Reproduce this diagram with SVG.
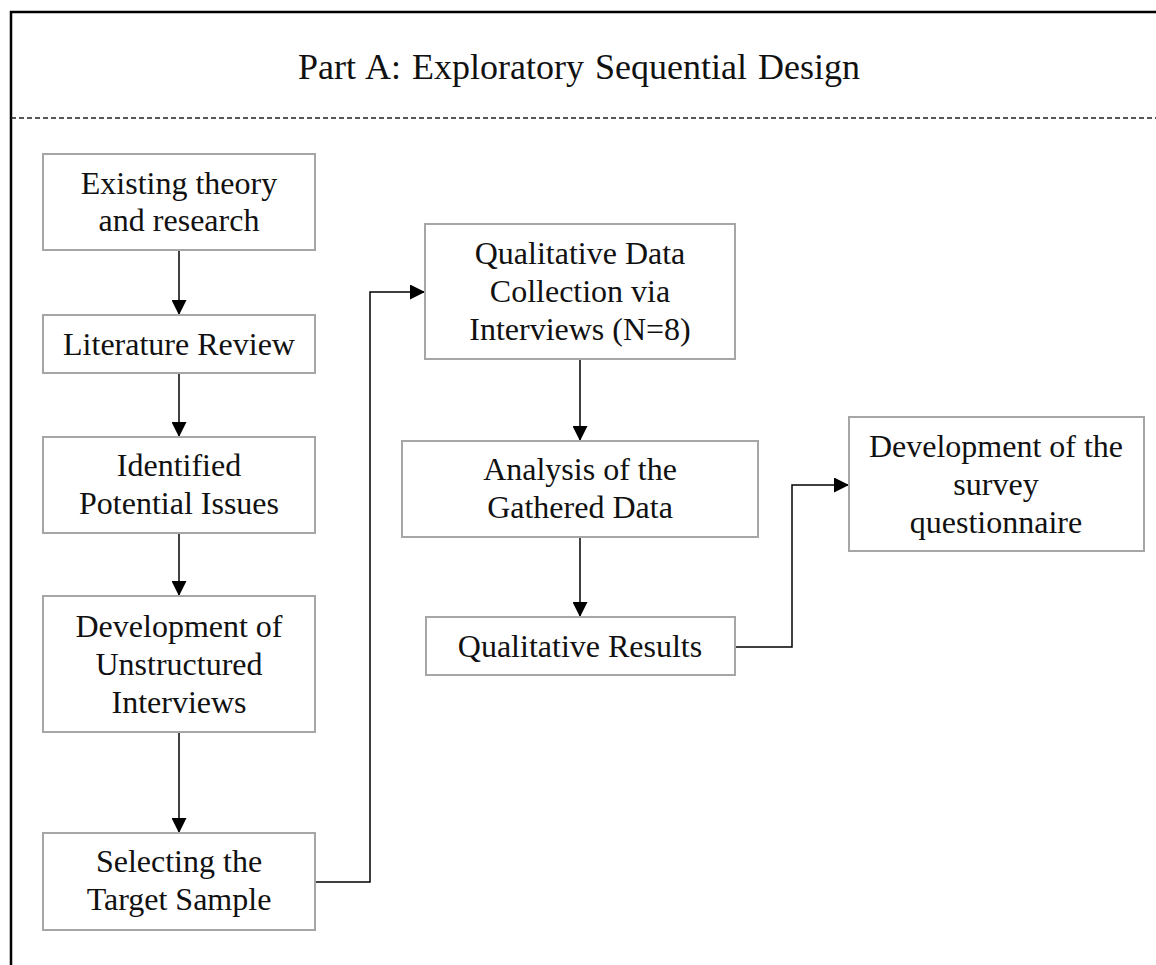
<svg xmlns="http://www.w3.org/2000/svg" width="1156" height="965" viewBox="0 0 1156 965">
  <style>
    .box { fill: #ffffff; stroke: #a6a6a6; stroke-width: 2; }
    .lbl { font-family: "Liberation Serif", "Times New Roman", serif; font-size: 32px; fill: #111111; text-anchor: middle; }
    .title { font-family: "Liberation Serif", "Times New Roman", serif; font-size: 36px; fill: #111111; text-anchor: middle; word-spacing: 2px; }
    .wire { fill: none; stroke: #000000; stroke-width: 1.5; }
  </style>
  <defs>
    <marker id="arrow" markerUnits="userSpaceOnUse" markerWidth="15" markerHeight="15" refX="15" refY="7.5" orient="auto">
      <path d="M0,0 L15,7.5 L0,15 z" fill="#000000"/>
    </marker>
  </defs>

  <rect x="0" y="0" width="1156" height="965" fill="#ffffff"/>

  <!-- frame and header -->
  <g id="frame">
    <path d="M11,965 L11,12 L1156,12" fill="none" stroke="#000000" stroke-width="2.5"/>
    <line x1="11" y1="118" x2="1156" y2="118" stroke="#222222" stroke-width="1.3" stroke-dasharray="5,3"/>
    <text class="title" x="579" y="79">Part A: Exploratory Sequential Design</text>
  </g>

  <!-- connectors -->
  <g id="connectors">
    <line class="wire" x1="179" y1="250" x2="179" y2="315" marker-end="url(#arrow)"/>
    <line class="wire" x1="179" y1="373" x2="179" y2="437" marker-end="url(#arrow)"/>
    <line class="wire" x1="179" y1="533" x2="179" y2="596" marker-end="url(#arrow)"/>
    <line class="wire" x1="179" y1="732" x2="179" y2="833" marker-end="url(#arrow)"/>
    <polyline class="wire" points="315,882 370,882 370,292 425,292" marker-end="url(#arrow)"/>
    <line class="wire" x1="580" y1="359" x2="580" y2="441" marker-end="url(#arrow)"/>
    <line class="wire" x1="580" y1="537" x2="580" y2="617" marker-end="url(#arrow)"/>
    <polyline class="wire" points="735,647 792,647 792,485 849,485" marker-end="url(#arrow)"/>
  </g>

  <g id="existing-theory">
    <rect class="box" x="43" y="154" width="272" height="96"/>
    <text class="lbl" x="179" y="194">Existing theory</text>
    <text class="lbl" x="179" y="231">and research</text>
  </g>

  <g id="literature-review">
    <rect class="box" x="43" y="315" width="272" height="58"/>
    <text class="lbl" x="179" y="355">Literature Review</text>
  </g>

  <g id="identified-issues">
    <rect class="box" x="43" y="437" width="272" height="96"/>
    <text class="lbl" x="179" y="476">Identified</text>
    <text class="lbl" x="179" y="514">Potential Issues</text>
  </g>

  <g id="unstructured-interviews">
    <rect class="box" x="43" y="596" width="272" height="136"/>
    <text class="lbl" x="179" y="637">Development of</text>
    <text class="lbl" x="179" y="675">Unstructured</text>
    <text class="lbl" x="179" y="713">Interviews</text>
  </g>

  <g id="target-sample">
    <rect class="box" x="43" y="833" width="272" height="97"/>
    <text class="lbl" x="179" y="872">Selecting the</text>
    <text class="lbl" x="179" y="910">Target Sample</text>
  </g>

  <g id="data-collection">
    <rect class="box" x="425" y="224" width="310" height="135"/>
    <text class="lbl" x="580" y="264">Qualitative Data</text>
    <text class="lbl" x="580" y="302">Collection via</text>
    <text class="lbl" x="580" y="340">Interviews (N=8)</text>
  </g>

  <g id="analysis">
    <rect class="box" x="402" y="441" width="356" height="96"/>
    <text class="lbl" x="580" y="480">Analysis of the</text>
    <text class="lbl" x="580" y="518">Gathered Data</text>
  </g>

  <g id="qualitative-results">
    <rect class="box" x="426" y="617" width="309" height="58"/>
    <text class="lbl" x="580" y="657">Qualitative Results</text>
  </g>

  <g id="survey-questionnaire">
    <rect class="box" x="849" y="417" width="295" height="134"/>
    <text class="lbl" x="996" y="457">Development of the</text>
    <text class="lbl" x="996" y="495">survey</text>
    <text class="lbl" x="996" y="533">questionnaire</text>
  </g>
</svg>
